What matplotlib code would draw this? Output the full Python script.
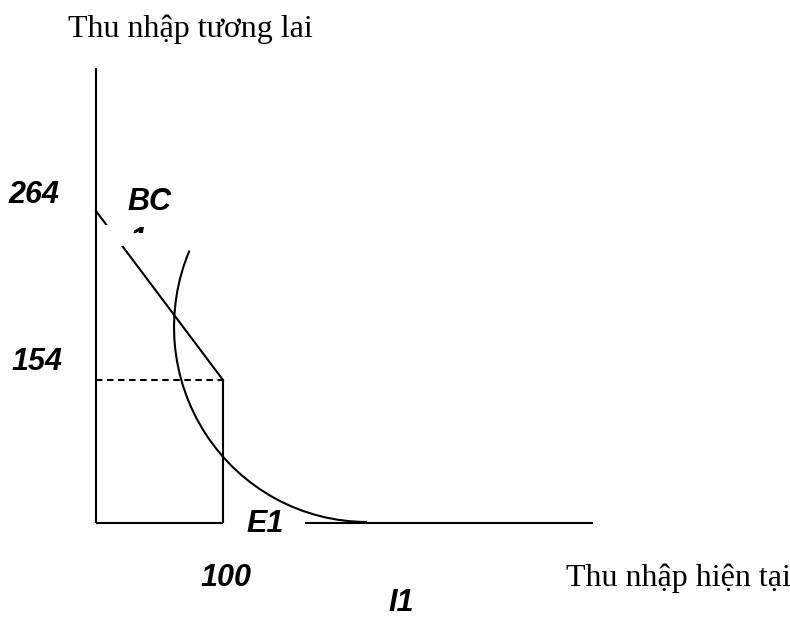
import matplotlib
matplotlib.use("Agg")
import matplotlib.pyplot as plt
from matplotlib.patches import Arc, Rectangle

# endowment point (present income, future income)
endow_x = 100
endow_y = 154

# axes
yaxis_top = 490
xaxis_left = [0, 100]
xaxis_right = [164.6, 391.3]

# budget constraint BC1
budget_x = [0, 100]
budget_y = [336, 154]

# indifference curve I1: a quarter of an ellipse
ic_center = (213.4, 211.1)
ic_width = 303.9
ic_height = 420.0
ic_theta = (149.5, 270)

tick_264 = "264"
tick_154 = "154"
tick_100 = "100"
ylabel = "Thu nhập tương lai"
xlabel = "Thu nhập hiện tại"

fig = plt.figure(figsize=(7.9, 6.17), dpi=100)
ax = fig.add_axes([0, 0, 1, 1])
ax.set_xlim(-75.59, 546.46)
ax.set_ylim(-101.23, 563.23)
ax.axis("off")

lw = 1.5
k = "black"

ax.plot([0, 0], [0, yaxis_top], color=k, lw=lw, solid_capstyle="butt")
ax.plot(xaxis_left, [0, 0], color=k, lw=lw, solid_capstyle="butt")
ax.plot(xaxis_right, [0, 0], color=k, lw=lw, solid_capstyle="butt")

ax.plot(budget_x, budget_y, color=k, lw=lw, zorder=2)
ax.plot([endow_x, endow_x], [0, endow_y], color=k, lw=lw, zorder=2,
        solid_capstyle="butt")
ax.plot([0, endow_x], [endow_y, endow_y], color=k, lw=lw,
        linestyle=(0, (3.1, 2.2)), zorder=2)
ax.add_patch(Arc(ic_center, ic_width, ic_height, theta1=ic_theta[0],
                 theta2=ic_theta[1], color=k, lw=lw, zorder=2))

bold = dict(family="Liberation Sans", fontsize=22, fontweight="bold",
            fontstyle="italic", color=k)
serif = dict(family="Liberation Serif", fontsize=23, color=k)

ax.text(-69.3, 353.0, tick_264, ha="left", va="center", **bold)
ax.text(-66.9, 173.0, tick_154, ha="left", va="center", **bold)
ax.text(81.9, -59.0, tick_100, ha="left", va="center", **bold)
ax.text(24.4, 346.0, "BC", ha="left", va="center", **bold)
ax.text(26.0, 319.5, "1", ha="left", va="top", zorder=2.5, **bold)
ax.text(118.1, -1.0, "E1", ha="left", va="center", **bold)
ax.text(229.9, -86.0, "I1", ha="left", va="center", **bold)

# white text frame of the BC1 label that hides part of the line and the "1"
ax.add_patch(Rectangle((5.5, 298.3), 18.1, 22.6, facecolor="white",
                       edgecolor="none", zorder=3))
ax.add_patch(Rectangle((23.6, 294.0), 30.7, 18.3, facecolor="white",
                       edgecolor="none", zorder=3))

ax.text(-22.0, 523.0, ylabel, ha="left", va="baseline", **serif)
ax.text(370.1, -67.8, xlabel, ha="left", va="baseline", **serif)

fig.savefig("out.png", dpi=100)
